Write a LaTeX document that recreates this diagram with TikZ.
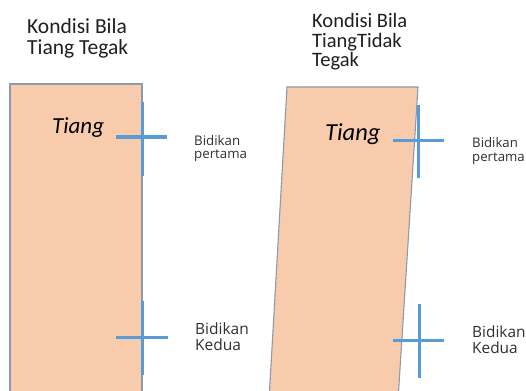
\documentclass[tikz,border=0pt]{standalone}
\usepackage{fontspec}
\setmainfont{Carlito}
\newfontfamily\labfont{Open Sans}
\definecolor{peach}{HTML}{F8CBAD}
\definecolor{edgegray}{HTML}{8C9AAE}
\definecolor{crossblue}{HTML}{5B9BD5}
\definecolor{titlecol}{HTML}{1F1F1F}
\definecolor{labcol}{HTML}{303030}
\newcommand{\mylines}[1]{\begin{tabular}[t]{@{}l@{}}#1\end{tabular}}
\begin{document}
\begin{tikzpicture}[x=1pt,y=-1pt,
  pole/.style={fill=peach,draw=edgegray,line width=1.1pt},
  crossline/.style={draw=crossblue,line width=3pt},
  txt/.style={anchor=base west,inner sep=0pt},
  title/.style={txt,text=titlecol},
  lab/.style={txt,text=labcol},
  polelabel/.style={txt,text=black}]
\useasboundingbox (0,0) rectangle (526,390);
\clip (0,0) rectangle (526,390);
\fill[white] (0,0) rectangle (526,390);
% poles
\draw[pole] (10,400) -- (10,84) -- (142,84) -- (142,400);
\draw[pole] (269,400) -- (287,87) -- (418,87) -- (398,400);
% titles
\node[title,font=\fontsize{21.5}{19}\selectfont] (t1) at (27,34) {\mylines{Kondisi Bila\\Tiang Tegak}};
\node[title,font=\fontsize{20.5}{17.5}\selectfont] (t2) at (312,28) {\mylines{Kondisi Bila\\TiangTidak\\Tegak}};
% pole labels
\node[polelabel,font=\fontsize{23}{23}\selectfont\itshape] (p1) at (52,133) {Tiang};
\node[polelabel,font=\fontsize{24.5}{24.5}\selectfont\itshape] (p2) at (325,140) {Tiang};
% crosses
\coordinate (l1t) at (142,102); \coordinate (l1b) at (142,176);
\coordinate (l1l) at (116,137); \coordinate (l1r) at (167,137);
\coordinate (l2t) at (142,301); \coordinate (l2b) at (142,375);
\coordinate (l2l) at (116,337); \coordinate (l2r) at (168,337);
\coordinate (r1t) at (418,105); \coordinate (r1b) at (418,178);
\coordinate (r1l) at (393,140); \coordinate (r1r) at (444,140);
\coordinate (r2t) at (419,304); \coordinate (r2b) at (419,378);
\coordinate (r2l) at (393,340); \coordinate (r2r) at (444,340);
\draw[crossline] (l1t) -- (l1b); \draw[crossline] (l1l) -- (l1r);
\draw[crossline] (l2t) -- (l2b); \draw[crossline] (l2l) -- (l2r);
\draw[crossline] (r1t) -- (r1b); \draw[crossline] (r1l) -- (r1r);
\draw[crossline] (r2t) -- (r2b); \draw[crossline] (r2l) -- (r2r);
% sighting labels
\node[lab,font=\labfont\fontsize{13.3}{11}\selectfont] (b1) at (194,146) {\mylines{Bidikan\\pertama}};
\node[lab,font=\labfont\fontsize{15.5}{16}\selectfont] (b2) at (195,334) {\mylines{Bidikan\\Kedua}};
\node[lab,font=\labfont\fontsize{13.2}{14}\selectfont] (b3) at (472,147) {\mylines{Bidikan\\pertama}};
\node[lab,font=\labfont\fontsize{15.4}{16}\selectfont] (b4) at (472,337) {\mylines{Bidikan\\Kedua}};
\end{tikzpicture}
\end{document}
